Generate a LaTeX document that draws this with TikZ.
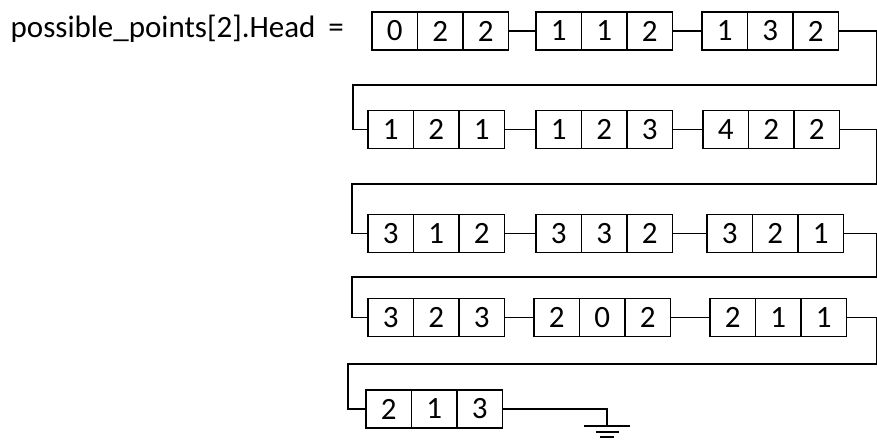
\documentclass[tikz,border=0pt]{standalone}
\usepackage{fontspec}
\setmainfont{Carlito}
\usetikzlibrary{positioning}

% one record of three cells: name, x, y, values
\newcommand{\pointrec}[6]{%
  \node[cell] (#1a) at (#2,#3) {#4};
  \node[cell, right=0pt of #1a] (#1b) {#5};
  \node[cell, right=0pt of #1b] (#1c) {#6};
}

\begin{document}
\begin{tikzpicture}[
  x=1pt, y=-1pt, line width=1.3pt,
  every node/.style={font=\fontsize{31}{36}\selectfont},
  cell/.style={draw, minimum width=45.5pt, minimum height=38pt,
               inner sep=0pt, outer sep=0pt, anchor=west},
]
\useasboundingbox (0,0) rectangle (877,440);

% head pointer
\node[anchor=west, inner sep=0pt] (head) at (10,29) {possible\_points[2].Head\hspace{13pt}=};

% row 1
\pointrec{p1}{372}{31}{0}{2}{2}
\pointrec{p2}{536}{31}{1}{1}{2}
\pointrec{p3}{702}{31}{1}{3}{2}

% row 2
\pointrec{p4}{368}{129.5}{1}{2}{1}
\pointrec{p5}{536}{129.5}{1}{2}{3}
\pointrec{p6}{703}{129.5}{4}{2}{2}

% row 3
\pointrec{p7}{368}{233.5}{3}{1}{2}
\pointrec{p8}{536}{233.5}{3}{3}{2}
\pointrec{p9}{707}{233.5}{3}{2}{1}

% row 4
\pointrec{p10}{368}{317.5}{3}{2}{3}
\pointrec{p11}{534}{317.5}{2}{0}{2}
\pointrec{p12}{710}{317.5}{2}{1}{1}

% row 5
\pointrec{p13}{366}{409}{2}{1}{3}

% turning points of the wrap-around links
\coordinate (r1) at (876.8,85);  \coordinate (l1) at (353,85);
\coordinate (r2) at (876.8,184); \coordinate (l2) at (352,184);
\coordinate (r3) at (876.8,277); \coordinate (l3) at (352,277);
\coordinate (r4) at (876.8,364); \coordinate (l4) at (348,364);
\coordinate (gnd) at (607,426);

% links in a row
\draw (p1c.east) -- (p2a.west);
\draw (p2c.east) -- (p3a.west);
\draw (p4c.east) -- (p5a.west);
\draw (p5c.east) -- (p6a.west);
\draw (p7c.east) -- (p8a.west);
\draw (p8c.east) -- (p9a.west);
\draw (p10c.east) -- (p11a.west);
\draw (p11c.east) -- (p12a.west);

% links to the next row
\draw (p3c.east) -| (r1) -- (l1) |- (p4a.west);
\draw (p6c.east) -| (r2) -- (l2) |- (p7a.west);
\draw (p9c.east) -| (r3) -- (l3) |- (p10a.west);
\draw (p12c.east) -| (r4) -- (l4) |- (p13a.west);

% null end
\draw (p13c.east) -| (gnd);
\draw ([xshift=-23pt]gnd) -- ([xshift=23pt]gnd);
\draw ([xshift=-11.5pt,yshift=-6pt]gnd) -- ([xshift=11.5pt,yshift=-6pt]gnd);
\draw ([xshift=-7pt,yshift=-11pt]gnd) -- ([xshift=7pt,yshift=-11pt]gnd);
\end{tikzpicture}
\end{document}
